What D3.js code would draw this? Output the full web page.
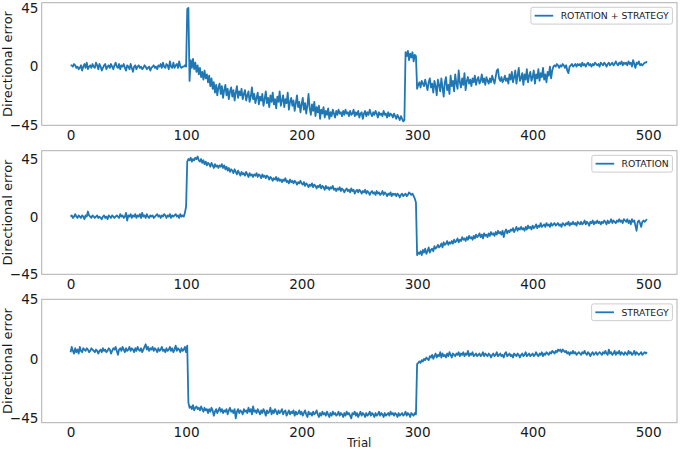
<!DOCTYPE html>
<html>
<head>
<meta charset="utf-8">
<script src="https://cdn.jsdelivr.net/npm/d3@7"></script>
<style>
html,body{margin:0;padding:0;background:#fff;}
svg{display:block;font-family:"DejaVu Sans",sans-serif;}
</style>
</head>
<body>
<svg id="chart" width="680" height="450"></svg>
<script>
// ---- data ----
const seriesNames = ["ROTATION + STRATEGY", "ROTATION", "STRATEGY"];
const xTicks = [0, 100, 200, 300, 400, 500];
const xTickLabels = ["0", "100", "200", "300", "400", "500"];
const yTicks = [-45, 0, 45];
const yTickLabels = ["\u221245", "0", "45"];
const yLabel = "Directional error";
const xLabel = "Trial";

const rotationStrategy = [
1,1,0,2,1,-1,0,-2,-1,1,-3,0,2,-1,3,-2,0,1,-1,2,
0,-1,3,1,-2,2,0,-3,-1,1,2,-2,0,1,-1,2,0,-2,1,3,
0,-1,2,-2,1,0,2,-1,-3,1,0,-2,2,-1,-4,0,1,-2,0,1,
-1,0,-2,-1,1,0,-2,-1,0,-3,-1,0,1,-1,0,-2,1,0,2,-1,
3,0,-1,2,1,-2,4,0,-1,3,-1,1,2,-1,4,0,-1,0,0,1,
0,44,45,-11,5,-1,6,-2,3,-4,1,-6,-1,-8,-4,-10,-3,-9,-6,-12,
-7,-15,-9,-17,-12,-20,-14,-22,-16,-13,-21,-15,-24,-18,-14,-22,-17,-25,-19,-16,
-23,-18,-26,-20,-15,-24,-19,-22,-17,-25,-21,-18,-26,-22,-19,-27,-23,-16,-25,-21,
-28,-24,-20,-29,-23,-26,-21,-30,-25,-19,-28,-24,-31,-22,-27,-20,-29,-25,-32,-23,
-27,-19,-30,-26,-22,-31,-25,-28,-20,-33,-27,-24,-30,-26,-34,-28,-22,-31,-27,-35,
-29,-24,-33,-28,-36,-30,-21,-32,-37,-29,-34,-27,-38,-31,-35,-30,-40,-33,-36,-31,
-39,-34,-37,-32,-40,-35,-38,-33,-36,-39,-34,-37,-33,-36,-35,-38,-34,-37,-33,-36,
-35,-38,-34,-37,-36,-33,-38,-35,-37,-34,-39,-36,-35,-40,-36,-34,-38,-35,-37,-33,
-36,-38,-35,-37,-34,-36,-39,-35,-37,-36,-38,-34,-37,-36,-39,-35,-38,-36,-37,-39,
-36,-38,-40,-37,-39,-41,-38,-40,-42,-41,11,8,12,5,10,7,11,4,9,8,
-17,-14,-12,-16,-11,-13,-15,-10,-14,-18,-12,-9,-16,-13,-20,-11,-15,-22,-10,-14,
-19,-9,-16,-23,-12,-8,-18,-14,-21,-7,-15,-11,-19,-6,-13,-17,-3,-12,-16,-9,
-14,-5,-18,-11,-8,-13,-10,-15,-9,-12,-7,-14,-10,-8,-13,-11,-6,-12,-9,-14,
-8,-11,-13,-9,-12,-7,-10,-13,-8,-3,-2,-9,-11,-8,-12,-10,-7,-11,-9,-13,
-6,-10,-4,-12,-8,-3,-13,-7,-1,-11,-9,-5,-14,-6,-10,-2,-12,-7,-4,-11,
-8,-3,-13,-6,-9,-2,-11,-5,-8,-1,-10,-6,-12,-4,-7,0,-9,-3,0,1,
0,2,1,-1,1,0,2,1,-1,1,-3,-5,0,1,2,0,1,2,0,2,
1,2,0,3,1,2,0,2,3,1,2,0,2,1,3,2,1,2,0,3,
2,1,3,2,0,2,3,1,2,3,1,2,4,2,1,3,2,4,1,3,
2,3,1,4,2,3,0,5,2,-1,3,2,4,1,2,1,2,3,3,4
];

const rotation = [
0,1,-1,0,2,0,-1,1,0,-1,1,0,-2,1,0,4,1,0,-1,1,
0,-1,0,1,-1,0,-1,-2,0,1,-1,0,-2,1,0,-1,1,0,-1,0,
1,0,-1,2,0,1,-1,0,3,-3,1,0,2,-1,1,0,2,-1,1,0,
2,-1,3,0,1,-1,2,0,-1,1,0,1,-1,0,1,2,0,1,-1,1,
0,2,1,-1,1,0,2,-1,1,0,1,2,0,1,-1,2,0,1,0,3,
8,43,45,44,46,43,45,44,46,45,47,44,43,45,42,44,41,43,40,42,
41,39,42,40,38,41,39,40,38,40,39,41,38,40,37,39,36,38,35,37,
36,34,37,35,33,36,34,32,35,33,34,32,35,33,31,34,32,33,31,33,
32,34,31,33,32,30,33,31,32,30,32,31,29,31,30,28,30,29,31,28,
30,28,29,27,29,28,30,27,28,26,29,27,28,26,28,27,25,27,26,28,
26,25,27,24,26,25,23,25,24,26,23,25,24,22,24,23,25,22,24,23,
21,24,22,23,21,23,22,24,21,22,20,22,21,23,20,22,21,19,21,22,
20,21,19,22,20,21,18,20,21,19,21,20,18,20,19,21,18,20,19,17,
19,20,18,19,17,20,18,19,17,18,20,17,19,18,16,18,17,19,16,18,
17,18,16,18,17,15,17,18,16,17,18,16,17,19,18,17,18,16,14,11,
-30,-28,-29,-27,-30,-26,-28,-25,-29,-27,-24,-28,-26,-25,-27,-23,-25,-24,-22,-24,
-23,-21,-24,-20,-22,-21,-19,-22,-20,-21,-19,-21,-18,-20,-19,-17,-20,-18,-19,-16,
-18,-17,-19,-16,-18,-15,-17,-16,-18,-15,-17,-14,-16,-15,-13,-16,-14,-17,-13,-15,
-14,-16,-13,-15,-12,-14,-13,-15,-12,-14,-11,-13,-12,-14,-11,-16,-12,-10,-13,-11,
-12,-10,-11,-9,-12,-10,-8,-11,-9,-10,-8,-10,-9,-11,-8,-10,-7,-9,-8,-10,
-7,-9,-8,-6,-9,-7,-8,-5,-8,-7,-6,-8,-5,-7,-6,-8,-5,-7,-6,-5,
-7,-6,-5,-7,-6,-8,-5,-6,-7,-5,-6,-4,-7,-5,-6,-4,-6,-5,-7,-4,
-5,-6,-4,-6,-5,-3,-6,-4,-5,-7,-4,-5,-3,-6,-4,-5,-3,-5,-4,-6,
-4,-5,-3,-4,-6,-3,-5,-4,-2,-5,-3,-4,-5,-3,-4,-2,-4,-3,-5,-2,
-3,-4,-2,-5,-3,-6,-2,-4,-3,-7,-11,-4,-3,-5,-8,-4,-3,-4,-3,-2
];

const strategy = [
5,9,6,4,8,5,7,4,9,6,5,8,7,6,8,7,5,6,8,7,
6,5,7,6,4,6,7,5,8,6,7,5,6,8,7,4,6,8,7,9,
6,3,7,8,6,9,7,5,8,6,7,9,6,8,7,5,8,6,9,7,
6,8,5,7,9,11,7,9,6,8,7,9,6,8,7,5,8,6,7,9,
6,7,5,8,6,7,9,6,8,5,7,10,6,8,7,5,8,6,7,9,
5,10,-33,-37,-36,-38,-35,-39,-37,-36,-38,-37,-39,-36,-38,-40,-37,-39,-38,-41,
-38,-40,-37,-39,-43,-40,-38,-41,-39,-37,-40,-38,-41,-39,-40,-38,-42,-39,-37,-40,
-39,-41,-38,-45,-40,-38,-41,-39,-40,-42,-38,-40,-39,-41,-37,-40,-38,-42,-36,-40,
-39,-41,-38,-40,-42,-39,-41,-38,-40,-43,-39,-41,-40,-37,-42,-39,-41,-38,-40,-42,
-39,-41,-40,-38,-42,-40,-39,-43,-41,-39,-42,-40,-41,-39,-43,-40,-42,-41,-39,-42,
-40,-43,-41,-39,-42,-44,-40,-42,-41,-43,-40,-42,-41,-39,-42,-44,-41,-43,-40,-42,
-41,-43,-40,-42,-44,-41,-43,-40,-42,-41,-43,-42,-40,-43,-41,-42,-44,-41,-43,-40,
-42,-41,-43,-45,-41,-42,-40,-43,-41,-44,-42,-40,-43,-41,-42,-44,-41,-43,-42,-40,
-43,-41,-42,-44,-41,-43,-42,-40,-43,-41,-42,-44,-41,-43,-42,-41,-43,-40,-42,-41,
-43,-41,-42,-44,-41,-43,-42,-41,-43,-42,-40,-43,-41,-42,-44,-41,-42,-43,-41,-42,
-4,-3,-2,-3,-1,-2,0,-1,1,0,-1,2,1,3,0,2,4,1,3,2,
5,1,4,2,3,1,4,2,5,3,1,4,3,2,4,3,5,2,4,3,
5,2,4,3,6,2,4,3,5,2,3,4,2,3,4,2,3,5,2,4,
3,2,4,3,1,3,4,2,3,5,2,3,4,2,3,1,4,5,2,3,
4,2,3,1,4,3,2,4,3,1,3,4,2,3,5,2,3,4,2,3,
4,2,3,5,3,2,4,3,5,2,4,3,5,4,3,5,4,6,5,4,
6,5,7,6,7,5,7,6,5,6,4,5,3,5,4,6,4,5,3,4,
5,4,3,5,4,6,4,3,5,4,2,4,5,3,4,5,3,4,5,4,
3,5,4,6,4,3,7,4,5,3,4,6,3,5,4,6,3,5,4,3,
5,4,3,6,4,5,3,4,6,3,5,4,3,4,5,3,4,5,4,5
];

// ---- layout ----
const allSeries = [rotationStrategy, rotation, strategy];
const panelLayout = [
  {top: 2.7, bottom: 125.3, dom: [-45, 49]},
  {top: 150.7, bottom: 274.3, dom: [-45, 51.5]},
  {top: 299.3, bottom: 422.7, dom: [-48.3, 45]}
];
const left = 41.7, right = 677;
const lineColor = "#1f77b4";
const tickFont = 13.6;
const legFont = 9.3;

const svg = d3.select("#chart");
const x = d3.scaleLinear().domain([-25, 525]).range([left, right]);

panelLayout.forEach((p, k) => {
  const y = d3.scaleLinear().domain(p.dom).range([p.bottom, p.top]);
  const g = svg.append("g");

  const data = allSeries[k];
  const line = d3.line().x((d, i) => x(i)).y(d => y(d));
  g.append("path")
    .datum(data)
    .attr("fill", "none")
    .attr("stroke", lineColor)
    .attr("stroke-width", 1.8)
    .attr("stroke-linejoin", "round")
    .attr("d", line);

  g.append("rect")
    .attr("x", left).attr("y", p.top)
    .attr("width", right - left).attr("height", p.bottom - p.top)
    .attr("fill", "none").attr("stroke", "#b0b0b0").attr("stroke-width", 1);

  const ya = g.append("g").attr("transform", `translate(${left},0)`)
    .call(d3.axisLeft(y).tickValues(yTicks).tickSize(0).tickPadding(3.2)
      .tickFormat((d, i) => yTickLabels[i]));
  ya.select(".domain").remove();
  ya.selectAll("text").attr("font-size", tickFont).attr("fill", "#1a1a1a")
    .attr("font-family", "DejaVu Sans");

  const xa = g.append("g").attr("transform", `translate(0,${p.bottom})`)
    .call(d3.axisBottom(x).tickValues(xTicks).tickSize(0).tickPadding(5)
      .tickFormat((d, i) => xTickLabels[i]));
  xa.select(".domain").remove();
  xa.selectAll("text").attr("font-size", tickFont).attr("fill", "#1a1a1a")
    .attr("font-family", "DejaVu Sans");

  g.append("text")
    .attr("transform", `translate(12,${(p.top + p.bottom) / 2}) rotate(-90)`)
    .attr("text-anchor", "middle")
    .attr("font-size", 13).attr("fill", "#1a1a1a")
    .text(yLabel);

  const lg = g.append("g");
  const txt = lg.append("text").attr("font-size", legFont).attr("fill", "#1a1a1a")
    .text(seriesNames[k]);
  const tw = txt.node().getComputedTextLength();
  const pad = 0.4 * legFont, handle = 2 * legFont, hpad = 0.8 * legFont;
  const w = pad + handle + hpad + tw + pad;
  const h = 16.8;
  const lx = right - 4.6 - w, ly = p.top + 4.6;
  lg.insert("rect", "text")
    .attr("x", lx).attr("y", ly).attr("width", w).attr("height", h)
    .attr("rx", 2).attr("fill", "#fff").attr("fill-opacity", 0.8)
    .attr("stroke", "#cccccc").attr("stroke-width", 1);
  lg.append("line")
    .attr("x1", lx + pad).attr("x2", lx + pad + handle)
    .attr("y1", ly + h / 2).attr("y2", ly + h / 2)
    .attr("stroke", lineColor).attr("stroke-width", 1.8);
  txt.attr("x", lx + pad + handle + hpad).attr("y", ly + h / 2 + 3.3);
});

svg.append("text")
  .attr("x", (left + right) / 2).attr("y", 447.3)
  .attr("text-anchor", "middle").attr("font-size", 11.8).attr("fill", "#1a1a1a")
  .text(xLabel);
</script>
</body>
</html>
